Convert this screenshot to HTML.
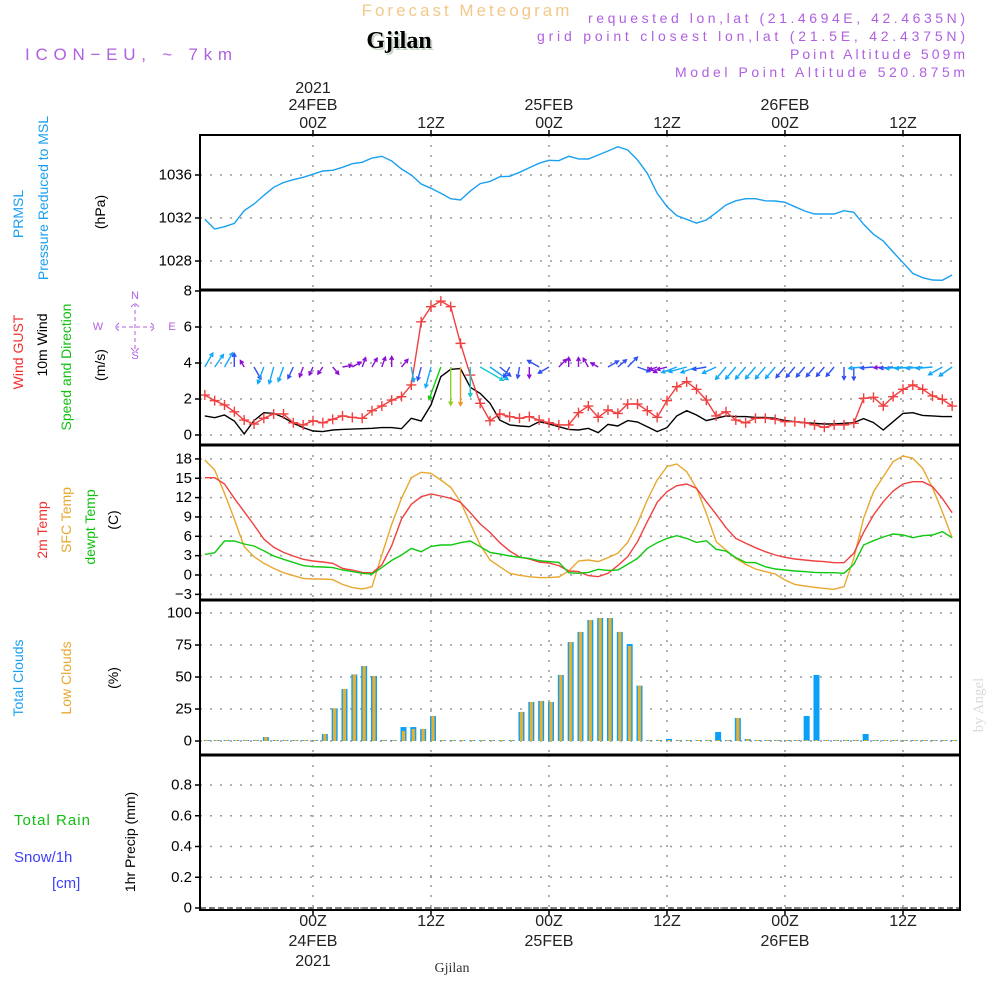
<!DOCTYPE html>
<html><head><meta charset="utf-8">
<style>
html,body{margin:0;padding:0;background:#fff;}
svg{display:block;font-family:"Liberation Sans",sans-serif;}
</style></head>
<body>
<svg id="chart" width="1000" height="1000" viewBox="0 0 1000 1000" xmlns="http://www.w3.org/2000/svg">
  <text x="467" y="16" font-size="17" fill="#f2c98a" text-anchor="middle" letter-spacing="3">Forecast Meteogram</text>
  <text x="401" y="50" font-size="24" font-weight="bold" font-family="Liberation Serif,serif" fill="#c8d8c8" text-anchor="middle">Gjilan</text>
  <text x="399" y="48" font-size="24" font-weight="bold" font-family="Liberation Serif,serif" fill="#000" text-anchor="middle">Gjilan</text>
  <text x="25" y="60" font-size="17" fill="#b060e0" textLength="208" letter-spacing="1">ICON−EU, ~ 7km</text>
  <g font-size="14" fill="#b060e0" text-anchor="end">
    <text x="965" y="23" textLength="377">requested lon,lat (21.4694E, 42.4635N)</text>
    <text x="965" y="41" textLength="428">grid point closest lon,lat (21.5E, 42.4375N)</text>
    <text x="965" y="59" textLength="175">Point Altitude 509m</text>
    <text x="965" y="77" textLength="290">Model Point Altitude 520.875m</text>
  </g>
  <text transform="translate(983,705) rotate(-90)" font-size="15" font-family="Liberation Serif,serif" fill="#d8dcd8" text-anchor="middle">by Angel</text>
  <text x="452" y="972" font-size="14" font-family="Liberation Serif,serif" fill="#333" text-anchor="middle">Gjilan</text>

  <g font-size="14" text-anchor="middle" dominant-baseline="central">
    <text transform="translate(18,214) rotate(-90)" fill="#1aa0f0">PRMSL</text>
    <text transform="translate(43,198) rotate(-90)" fill="#1aa0f0">Pressure Reduced to MSL</text>
    <text transform="translate(100,212) rotate(-90)" fill="#000">(hPa)</text>
    <text transform="translate(18,352) rotate(-90)" fill="#f03030">Wind GUST</text>
    <text transform="translate(42,345) rotate(-90)" fill="#000">10m Wind</text>
    <text transform="translate(66,367) rotate(-90)" fill="#10c010">Speed and Direction</text>
    <text transform="translate(100,365) rotate(-90)" fill="#000">(m/s)</text>
    <text transform="translate(42,530) rotate(-90)" fill="#f03030">2m Temp</text>
    <text transform="translate(66,520) rotate(-90)" fill="#e8a830">SFC Temp</text>
    <text transform="translate(90,527) rotate(-90)" fill="#10c010">dewpt Temp</text>
    <text transform="translate(113,520) rotate(-90)" fill="#000">(C)</text>
    <text transform="translate(18,678) rotate(-90)" fill="#1aa0f0">Total Clouds</text>
    <text transform="translate(66,678) rotate(-90)" fill="#e8a830">Low Clouds</text>
    <text transform="translate(113,678) rotate(-90)" fill="#000">(%)</text>
    <text transform="translate(130,842) rotate(-90)" fill="#000">1hr Precip (mm)</text>
  </g>
  <text x="14" y="825" font-size="15" fill="#10c010" textLength="76">Total  Rain</text>
  <text x="14" y="862" font-size="15" fill="#4040ff">Snow/1h</text>
  <text x="52" y="888" font-size="15" fill="#4040ff">[cm]</text>
  <g font-size="11" fill="#b060e0" text-anchor="middle">
    <text x="135" y="299">N</text>
    <text x="135" y="359">S</text>
    <text x="98" y="330">W</text>
    <text x="172" y="330">E</text>
    <path d="M115 327 H155 M135 303 V352 M119 323 L115 327 L119 331 M151 323 L155 327 L151 331 M131 307 L135 303 L139 307 M131 348 L135 352 L139 348" stroke="#b060e0" stroke-width="1" fill="none" stroke-dasharray="4 3"/>
  </g>
  <g id="plot"></g>
</svg>
<script>
const pressure = [1031.88,1030.98,1031.19,1031.5,1032.68,1033.3,1034.1,1034.86,1035.3,1035.56,1035.79,1036.07,1036.37,1036.44,1036.72,1037.05,1037.18,1037.58,1037.74,1037.3,1036.56,1036.0,1035.16,1034.76,1034.3,1033.8,1033.67,1034.5,1035.2,1035.4,1035.84,1035.88,1036.25,1036.68,1037.1,1037.37,1037.33,1037.74,1037.5,
1037.49,1037.86,1038.23,1038.63,1038.33,1037.4,1036.16,1034.3,1033.05,1032.21,1031.88,1031.53,1031.81,1032.49,1033.21,1033.6,1033.8,1033.8,1033.6,1033.58,1033.46,1033.05,1032.65,1032.37,1032.37,1032.37,1032.68,1032.53,1031.41,1030.48,1029.86,1028.84,1027.84,1026.85,1026.45,1026.23,1026.2,1026.7];
const windGust = [2.22,1.91,1.67,1.29,0.83,0.61,0.93,1.17,1.17,0.68,0.56,0.79,0.68,0.87,1.06,0.98,0.93,1.35,1.61,1.94,2.13,2.78,6.29,7.13,7.44,7.13,5.09,3.33,1.76,0.79,1.17,1.02,0.93,1.02,0.83,0.68,0.56,0.56,1.24,
1.61,0.98,1.39,1.2,1.72,1.72,1.35,0.98,1.91,2.68,2.96,2.54,1.94,1.06,1.29,0.83,0.68,0.93,0.93,0.87,0.74,0.74,0.68,0.56,0.43,0.56,0.56,0.65,2.04,2.09,1.61,2.13,2.54,2.78,2.54,2.17,1.98,1.61];
const windSpeed = [1.06,0.96,1.11,0.78,0.06,0.8,1.24,1.2,0.98,0.65,0.41,0.22,0.19,0.28,0.31,0.33,0.35,0.37,0.41,0.41,0.35,0.93,0.78,1.67,3.24,3.65,3.69,2.65,2.31,1.76,0.83,0.56,0.5,0.46,0.74,0.61,0.46,0.31,0.28,
0.37,0.13,0.59,0.5,0.8,0.72,0.46,0.19,0.41,1.06,1.35,1.11,0.8,0.93,1.06,1.02,1.02,0.98,0.98,0.93,0.8,0.74,0.69,0.65,0.61,0.61,0.65,0.69,0.91,0.69,0.28,0.74,1.2,1.24,1.09,1.06,1.02,1.02];
const windDir = [30,35,30,0,330,150,200,195,200,205,200,205,215,140,80,60,20,30,20,0,40,170,195,195,200,180,180,180,120,125,130,210,190,180,300,240,45,0,0,330,300,60,50,45,110,120,250,255,250,255,250,260,245,220,220,220,220,220,220,220,220,220,220,220,220,180,180,265,265,265,265,265,265,265,265,240,235];
const temp2m = [15.09,15.09,14.11,11.89,9.82,7.75,5.58,4.29,3.51,2.95,2.43,2.17,2.02,1.81,1.03,0.78,0.41,0.31,1.55,4.55,8.68,10.96,12.14,12.56,12.25,11.89,11.27,9.66,7.91,6.61,5.01,3.72,2.79,2.48,2.02,1.86,1.45,0.62,0.52,
-0.1,-0.26,0.26,1.45,2.84,5.17,8.27,11.27,12.92,13.85,14.11,13.44,11.37,9.41,7.34,5.68,4.91,4.24,3.62,3.1,2.74,2.48,2.33,2.17,2.07,1.91,1.91,3.36,6.61,9.3,11.37,13.02,14.11,14.47,14.47,13.7,11.89,9.66];
const tempSfc = [17.83,16.28,12.66,8.68,4.39,2.84,1.81,1.03,0.36,-0.1,-0.52,-0.62,-0.62,-0.72,-1.45,-1.96,-2.17,-1.81,3.1,7.85,11.89,15.09,15.92,15.76,14.73,13.59,11.37,8.01,4.65,2.33,1.29,0.26,-0.05,-0.26,-0.41,-0.41,-0.31,0.62,2.17,
2.33,2.07,2.69,3.36,5.06,8.01,11.63,14.73,16.8,17.21,16.02,13.44,9.56,5.17,3.88,2.58,1.65,0.93,0.52,0.16,-0.78,-1.45,-1.71,-1.91,-2.07,-2.22,-1.81,2.58,8.79,12.92,15.25,17.57,18.45,18.09,16.54,13.54,9.82,5.79];
const dewpt = [3.2,3.46,5.27,5.27,4.81,4.5,3.77,2.95,2.43,1.96,1.45,1.29,1.24,1.14,0.78,0.52,0.26,0.16,1.14,2.27,3.1,4.13,3.62,4.44,4.65,4.65,5.01,5.27,4.39,3.51,3.26,2.95,2.74,2.58,2.22,2.07,1.96,0.36,0.26,
0.41,0.88,0.72,0.78,1.65,2.58,4.13,5.01,5.68,6.1,5.68,5.06,5.32,3.98,3.72,2.69,1.96,1.91,1.29,0.93,0.78,0.62,0.52,0.41,0.36,0.36,0.26,1.65,4.65,5.32,5.89,6.36,6.2,5.79,6.1,6.2,6.72,5.79];
const totalClouds = [0,0,0,0,0,0,3.1,0,0,0,0,0,5.5,25.5,40.6,52,58.6,50.8,0,0,10.9,10.9,9.4,19.5,0,0,0,0,0,0,0,0,22.7,30.5,31.3,30.5,51.6,77.3,85.2,94.5,96.1,96.1,85.2,75.8,43.2,0,0,1.6,0,0,0,0,7,0,18,1.6,0,0,0,0,0,19.5,51.6,0.8,0,0.8,0.8,5.5,0,0,0,0,0,0,0,0,0];
const lowClouds = [0,0,0,0,0,0,3.1,0,0,0,0,0,5.5,25.5,40.6,52,58.6,50.8,0,0,7.8,9.4,9.4,19.5,0,0,0,0,0,0,0,0,22.7,30.5,31.3,30.5,51.6,77.3,85.2,94.5,96.1,96.1,85.2,74.2,43.2,0,0,0,0,0,0,0,0,0,18,1.6,0,0,0,0,0,0,0,0,0,0,0,0,0,0,0,0,0,0,0,0,0];
const precip = new Array(77).fill(0);
const pressureTicks = [1028,1032,1036];
const windTicks = [0,2,4,6,8];
const tempTicks = [-3,0,3,6,9,12,15,18];
const cloudTicks = [0,25,50,75,100];
const precipTicks = [0,0.2,0.4,0.6,0.8];
const timeTicks = [0,12,24,36,48,60];
const timeLabels = ["00Z","12Z","00Z","12Z","00Z","12Z"];
const dateLabels = ["24FEB","","25FEB","","26FEB",""];
const T0 = -11;

const X0=200, X1=960;
const xT = t => 313 + t*9.833;
const yP = p => 218 - (p-1032)*10.75;
const yW = v => 435 - v*18;
const yTe = c => 575 - c*6.45;
const yC = c => 741 - c*1.28;
const yR = r => 908 - r*153.75;
const panels = [[135,290],[290,445],[445,600],[600,755],[755,910]];

const NS="http://www.w3.org/2000/svg";
const plot=document.getElementById('plot');
function mk(tag, attrs, parent){
  const e=document.createElementNS(NS,tag);
  for(const k in attrs) e.setAttribute(k,attrs[k]);
  (parent||plot).appendChild(e);
  return e;
}
function txt(x,y,s,attrs,parent){
  const e=mk('text',Object.assign({x:x,y:y},attrs||{}),parent);
  e.textContent=s; return e;
}

const grid=mk('g',{stroke:'#999','stroke-width':1.5,'stroke-dasharray':'2 8',fill:'none'});


timeTicks.forEach(t=>{
  panels.forEach(p=>{ mk('line',{x1:xT(t),x2:xT(t),y1:p[0],y2:p[1]},grid); });
});
function hgrid(ticks,fy,p){
  ticks.forEach(v=>{ const y=fy(v); if(y>p[0]+2&&y<p[1]-1) mk('line',{x1:X0,x2:X1,y1:y,y2:y},grid); });
}
hgrid(pressureTicks,yP,panels[0]);hgrid(windTicks,yW,panels[1]);hgrid(tempTicks,yTe,panels[2]);
hgrid(cloudTicks,yC,panels[3]);hgrid(precipTicks,yR,panels[4]);

function ylabels(ticks,fy,name,fmt){
  const g=mk('g',{'font-size':15,fill:'#000','text-anchor':'end','dominant-baseline':'central'});
  
  
  ticks.forEach(v=>{
    const y=fy(v);
    mk('line',{x1:X0-5,x2:X0,y1:y,y2:y,stroke:'#000','stroke-width':1.5},g);
    txt(X0-8,y,fmt?fmt(v):String(v).replace('-','−'),{},g);
  });
}
ylabels(pressureTicks,yP,'pressure-axis');
ylabels(windTicks,yW,'wind-axis');
ylabels(tempTicks,yTe,'temp-axis');
ylabels(cloudTicks,yC,'cloud-axis');
ylabels(precipTicks,yR,'precip-axis',v=>v===0?'0':v.toFixed(1));

const xl=mk('g',{'font-size':16,fill:'#222','text-anchor':'middle'});


timeTicks.forEach((t,i)=>{
  const x=xT(t);
  mk('line',{x1:x,x2:x,y1:130,y2:135,stroke:'#000','stroke-width':1.5},xl);
  mk('line',{x1:x,x2:x,y1:910,y2:915,stroke:'#000','stroke-width':1.5},xl);
  txt(x,128,timeLabels[i],{},xl);
  txt(x,926,timeLabels[i],{},xl);
  if(dateLabels[i]){ txt(x,110,dateLabels[i],{},xl); txt(x,946,dateLabels[i],{},xl); }
});
txt(xT(0),93,'2021',{},xl); txt(xT(0),966,'2021',{},xl);

function line(data,fy,color,name,w){
  const d=data.map((v,i)=>(i?'L':'M')+xT(T0+i).toFixed(1)+' '+fy(v).toFixed(1)).join(' ');
  const e=mk('path',{d:d,fill:'none',stroke:color,'stroke-width':w||1.4});
  
  
}
line(pressure,yP,'#1aa0f0','pressure-line');
line(windSpeed,yW,'#000','wind-speed-line');
line(windGust,yW,'#f04040','wind-gust-line');
const gm=mk('g',{stroke:'#f04040','stroke-width':1.4});


windGust.forEach((v,i)=>{
  const x=xT(T0+i), y=yW(v);
  mk('path',{d:`M${x-5} ${y} H${x+5} M${x} ${y-5} V${y+5}`},gm);
});
function speedColor(s){
  if(s<0.5) return '#8a10d8';
  if(s<0.9) return '#3050f0';
  if(s<2) return '#10a8f8';
  if(s<3) return '#10c8c8';
  if(s<3.4) return '#10d010';
  if(s<3.67) return '#90d020';
  return '#f09020';
}
const ag=mk('g',{fill:'none','stroke-width':1.4});


windDir.forEach((dg,i)=>{
  const s=windSpeed[i], L=7+s*8.5, a=dg*Math.PI/180;
  const x0=xT(T0+i), y0=367;
  const x1=x0+L*Math.sin(a), y1=y0-L*Math.cos(a);
  const h=4, b1=a+Math.PI-0.5, b2=a+Math.PI+0.5;
  const e=mk('path',{d:`M${x0.toFixed(1)} ${y0} L${x1.toFixed(1)} ${y1.toFixed(1)} M${(x1+h*Math.sin(b1)).toFixed(1)} ${(y1-h*Math.cos(b1)).toFixed(1)} L${x1.toFixed(1)} ${y1.toFixed(1)} L${(x1+h*Math.sin(b2)).toFixed(1)} ${(y1-h*Math.cos(b2)).toFixed(1)}`,stroke:speedColor(s)},ag);
  
  
});
line(tempSfc,yTe,'#e8a830','sfc-temp-line');
line(temp2m,yTe,'#f04040','temp-2m-line');
line(dewpt,yTe,'#10c810','dewpt-line');
const cg=mk('g',{});


totalClouds.forEach((v,i)=>{
  const x=xT(T0+i)+2, y0=yC(0);
  const h=Math.max(1,v*1.28), hl=Math.max(1,lowClouds[i]*1.28);
  const b=mk('rect',{x:x-3,y:y0-h,width:6,height:h,fill:'#0aa0f8'},cg);
  
  
  const l=mk('rect',{x:x-1.6,y:y0-hl,width:3.2,height:hl,fill:'#e8b030'},cg);
  
  
});
const pg=mk('g',{});


precip.forEach((v,i)=>{
  if(v>0){ const x=xT(T0+i)+2; const r=mk('rect',{x:x-3,y:yR(v),width:6,height:v*153.75,fill:'#10c010'},pg);
      }
});
mk('line',{x1:X0,x2:X1,y1:908,y2:908,stroke:'#000','stroke-width':1,'stroke-dasharray':'6 3'},pg);

const fr=mk('g',{fill:'none',stroke:'#000'});


mk('rect',{x:X0,y:135,width:X1-X0,height:775,'stroke-width':2},fr);
[290,445,600,755].forEach(y=>mk('line',{x1:X0,x2:X1,y1:y,y2:y,'stroke-width':3},fr));
</script>
</body></html>
